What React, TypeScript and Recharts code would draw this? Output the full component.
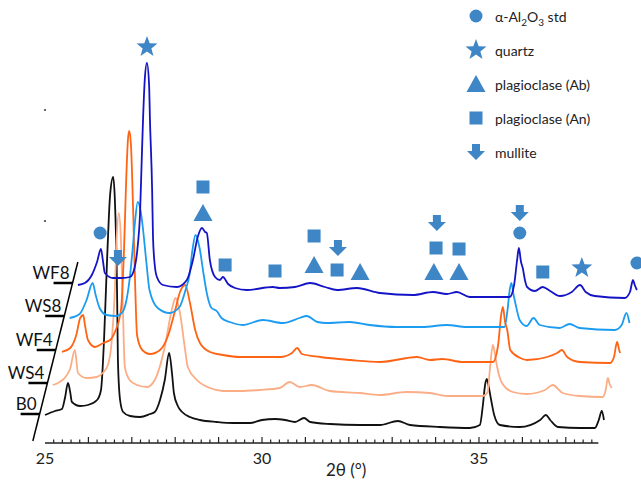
import React from "react";
import { ComposedChart, Line, Scatter, XAxis, YAxis, ReferenceLine } from "recharts";

// [2θ (°), intensity (a.u.)], one list per sample
const b0 = [
  [25.0, 28], [25.23, 32], [25.39, 34], [25.46, 45], [25.53, 60], [25.58, 51], [25.62, 41], [25.81, 37],
  [25.99, 38], [26.2, 43], [26.29, 53], [26.36, 103], [26.43, 183], [26.5, 248], [26.57, 266], [26.61, 243],
  [26.66, 153], [26.68, 83], [26.73, 43], [26.8, 31], [26.96, 27], [27.19, 26], [27.42, 29], [27.53, 31],
  [27.65, 43], [27.76, 63], [27.86, 90], [27.93, 68], [27.97, 50], [28.06, 37], [28.16, 31], [28.34, 26],
  [28.57, 23], [28.96, 21], [29.33, 20], [29.72, 20], [30.0, 23], [30.3, 24], [30.53, 23], [30.76, 21],
  [30.97, 25], [31.11, 21], [31.57, 19], [32.26, 18], [32.72, 18], [33.13, 22], [33.41, 18], [34.1, 16],
  [34.79, 15], [35.02, 18], [35.09, 38], [35.14, 58], [35.18, 64], [35.23, 55], [35.28, 43], [35.35, 28],
  [35.48, 18], [35.94, 16], [36.41, 23], [36.54, 28], [36.64, 23], [36.82, 16], [37.33, 15], [37.67, 15],
  [37.76, 23], [37.83, 32], [37.88, 23],
];
const ws4 = [
  [25.0, 27], [25.12, 29], [25.39, 42], [25.51, 62], [25.58, 39], [25.78, 34], [26.01, 35], [26.15, 39],
  [26.27, 47], [26.36, 72], [26.43, 122], [26.47, 172], [26.52, 199], [26.57, 172], [26.61, 112], [26.66, 45],
  [26.77, 32], [26.94, 27], [27.17, 25], [27.35, 32], [27.58, 65], [27.74, 102], [27.83, 114], [27.93, 99],
  [28.04, 65], [28.11, 45], [28.32, 32], [28.62, 24], [28.92, 21], [29.31, 21], [29.77, 22], [30.23, 24],
  [30.46, 30], [30.69, 25], [30.97, 27], [31.38, 21], [32.07, 19], [32.53, 17], [33.15, 20], [33.69, 19],
  [34.08, 16], [34.91, 16], [35.02, 20], [35.07, 42], [35.14, 67], [35.18, 60], [35.23, 47], [35.35, 29],
  [35.6, 20], [35.92, 18], [36.34, 22], [36.52, 27], [36.75, 19], [37.14, 16], [37.67, 15], [37.74, 22],
  [37.79, 34], [37.83, 28], [37.88, 24],
];
const wf4 = [
  [25.02, 27], [25.21, 31], [25.35, 44], [25.44, 61], [25.51, 64], [25.55, 54], [25.62, 39], [25.78, 32],
  [25.97, 36], [26.13, 39], [26.24, 47], [26.38, 69], [26.45, 129], [26.5, 199], [26.54, 239], [26.57, 248],
  [26.61, 234], [26.66, 169], [26.71, 89], [26.75, 44], [26.87, 29], [27.05, 25], [27.28, 29], [27.47, 44],
  [27.63, 69], [27.74, 87], [27.86, 94], [27.97, 76], [28.09, 49], [28.2, 36], [28.43, 27], [28.73, 24],
  [29.12, 22], [29.59, 22], [30.05, 22], [30.32, 26], [30.44, 31], [30.55, 25], [30.97, 22], [31.66, 19],
  [32.35, 17], [33.2, 22], [33.5, 19], [33.78, 20], [34.26, 17], [34.95, 17], [35.07, 34], [35.14, 64],
  [35.18, 72], [35.23, 57], [35.28, 49], [35.35, 29], [35.58, 21], [35.74, 19], [36.2, 22], [36.43, 26],
  [36.54, 29], [36.66, 22], [36.96, 17], [37.65, 16], [37.74, 22], [37.81, 37], [37.86, 29], [37.88, 26],
];
const ws8 = [
  [25.0, 27], [25.23, 31], [25.39, 45], [25.53, 62], [25.6, 50], [25.69, 37], [25.85, 30], [26.08, 29],
  [26.22, 33], [26.31, 45], [26.38, 65], [26.45, 95], [26.5, 120], [26.57, 143], [26.64, 133], [26.68, 120],
  [26.77, 82], [26.84, 55], [27.03, 37], [27.3, 32], [27.53, 38], [27.67, 55], [27.76, 70], [27.83, 95],
  [27.9, 110], [27.99, 98], [28.09, 70], [28.16, 52], [28.27, 37], [28.39, 34], [28.5, 27], [28.69, 23],
  [28.99, 20], [29.45, 25], [29.91, 22], [30.3, 27], [30.46, 29], [30.71, 23], [30.92, 22], [31.45, 23],
  [31.91, 20], [32.53, 18], [33.13, 18], [33.69, 20], [34.15, 18], [35.02, 18], [35.09, 35], [35.14, 55],
  [35.18, 62], [35.23, 50], [35.28, 40], [35.37, 25], [35.53, 19], [35.69, 27], [35.83, 20], [36.29, 17],
  [36.52, 21], [36.75, 17], [37.56, 15], [37.72, 20], [37.83, 32], [37.9, 22],
];
const wf8 = [
  [25.0, 27], [25.16, 29], [25.32, 37], [25.44, 50], [25.53, 63], [25.58, 50], [25.62, 39], [25.81, 34],
  [26.01, 34], [26.2, 35], [26.31, 45], [26.38, 67], [26.43, 97], [26.47, 152], [26.5, 192], [26.54, 232],
  [26.59, 249], [26.64, 227], [26.66, 192], [26.71, 122], [26.73, 75], [26.77, 47], [26.82, 35], [26.96, 27],
  [27.28, 25], [27.51, 32], [27.65, 52], [27.76, 75], [27.86, 84], [27.93, 80], [27.97, 79], [28.04, 52],
  [28.16, 35], [28.27, 32], [28.34, 35], [28.46, 28], [28.62, 24], [28.89, 22], [29.49, 25], [29.65, 24],
  [30.0, 25], [30.35, 29], [30.69, 25], [30.97, 22], [31.43, 24], [31.96, 19], [32.72, 17], [33.18, 20],
  [33.5, 18], [33.73, 20], [34.03, 15], [34.95, 15], [35.05, 27], [35.12, 52], [35.16, 64], [35.21, 50],
  [35.25, 44], [35.3, 32], [35.35, 25], [35.53, 21], [35.71, 25], [35.88, 21], [36.11, 16], [36.38, 20],
  [36.57, 27], [36.7, 20], [36.91, 16], [37.6, 14], [37.72, 20], [37.79, 32], [37.83, 27], [37.88, 22],
];

const samples = ["B0", "WS4", "WF4", "WS8", "WF8"];
const sampleColors = ["#111111", "#fbad86", "#ff6314", "#1c9cf0", "#1414c6"];
const sampleData = [b0, ws4, wf4, ws8, wf8];
const stackOffsets = [0, 31, 64, 98, 131];

// phase markers, placed in plot coordinates (2θ, height)
const alumina = [{ x: 26.27, y: 210 }, { x: 35.94, y: 210 }, { x: 38.64, y: 180 }];
const quartz = [{ x: 27.35, y: 396 }, { x: 37.37, y: 175 }];
const albite = [
  { x: 28.64, y: 230 }, { x: 31.2, y: 178 }, { x: 32.26, y: 171 }, { x: 33.96, y: 171 }, { x: 34.54, y: 171 },
];
const anorthite = [
  { x: 28.64, y: 256 }, { x: 29.15, y: 178 }, { x: 30.3, y: 172 }, { x: 31.2, y: 207 },
  { x: 31.73, y: 173 }, { x: 34.01, y: 195 }, { x: 34.54, y: 194 }, { x: 36.47, y: 171 },
];
const mullite = [{ x: 26.68, y: 185 }, { x: 31.75, y: 195 }, { x: 34.03, y: 220 }, { x: 35.94, y: 230 }];
const strayDots = [{ x: 25.0, y: 333 }, { x: 25.0, y: 222 }];

const xLabels = [25, 30, 35];
const xTicks = [25, ...Array.from({ length: 63 }, (_, i) => Math.round((25.2 + i * 0.2) * 10) / 10)];

const X_MIN = 23.963;
const X_MAX = 38.733;
const SLANT = 0.00579; // 2θ shift per unit of stacking offset (waterfall)
const axisFoot = { x: 24.72, y: 2 };
const axisTopY = 181;
const tickBase = 29;

const BLUE = "#3e86c6";
const FONT = "Lato, 'Open Sans', sans-serif";

const traces = samples.map((name, i) => ({
  name,
  color: sampleColors[i],
  points: sampleData[i].map(([t, c]) => ({
    x: t + stackOffsets[i] * SLANT,
    y: c + stackOffsets[i],
  })),
}));

const sampleTicks = samples.map((name, i) => ({
  name,
  x: axisFoot.x + (tickBase + stackOffsets[i] - axisFoot.y) * SLANT,
  y: tickBase + stackOffsets[i],
}));

type Kind = "circle" | "star" | "triangle" | "square" | "arrow";

function Marker({ kind, cx, cy }: { kind: Kind; cx: number; cy: number }) {
  if (kind === "circle") return <circle cx={cx} cy={cy} r={6.5} fill={BLUE} />;
  if (kind === "square") return <rect x={cx - 6.5} y={cy - 6.5} width={13} height={13} fill={BLUE} />;
  if (kind === "triangle") {
    return <polygon points={`${cx},${cy - 9} ${cx + 9.5},${cy + 8} ${cx - 9.5},${cy + 8}`} fill={BLUE} />;
  }
  if (kind === "arrow") {
    const pts = [
      [cx - 4, cy - 8], [cx + 4, cy - 8], [cx + 4, cy - 1], [cx + 9, cy - 1],
      [cx, cy + 8], [cx - 9, cy - 1], [cx - 4, cy - 1],
    ];
    return <polygon points={pts.map((p) => p.join(",")).join(" ")} fill={BLUE} />;
  }
  const star = Array.from({ length: 10 }, (_, k) => {
    const a = -Math.PI / 2 + (k * Math.PI) / 5;
    const rad = k % 2 === 0 ? 11 : 4.6;
    return `${cx + rad * Math.cos(a)},${cy + rad * Math.sin(a)}`;
  }).join(" ");
  return <polygon points={star} fill={BLUE} />;
}

const markerShape = (kind: Kind) => (p: any) => <Marker kind={kind} cx={p.cx} cy={p.cy} />;

const AxisTick = (props: any) => {
  const { x, y, payload } = props;
  const v = payload.value as number;
  const major = Math.abs(v - Math.round(v)) < 1e-6;
  return (
    <g>
      {v > 25.05 && (
        <line x1={x} x2={x} y1={y} y2={y - (major ? 6 : 3.5)} stroke="#222" strokeWidth={1.2} />
      )}
      {major && xLabels.includes(Math.round(v)) && (
        <text x={x} y={y + 21} textAnchor="middle" fontSize={16} fill="#222" fontFamily={FONT}>
          {Math.round(v)}
        </text>
      )}
    </g>
  );
};

const AxisTitle = (props: any) => {
  const vb = props.viewBox;
  return (
    <text x={vb.x + vb.width * 0.54} y={vb.y + vb.height - 5} textAnchor="middle" fontSize={17} fill="#222" fontFamily={FONT}>
      2θ (°)
    </text>
  );
};

const SampleTick = (p: any) => (
  <g>
    <line x1={p.cx - 19} x2={p.cx} y1={p.cy} y2={p.cy} stroke="#000" strokeWidth={2.5} />
    <text x={p.cx - 3} y={p.cy - 4} textAnchor="end" fontSize={17} fill="#111" fontFamily={FONT}>
      {p.payload.name}
    </text>
  </g>
);

const legendRows: { kind: Kind; label: React.ReactNode }[] = [
  { kind: "circle", label: <>α-Al<sub style={{ fontSize: 10, lineHeight: 0 }}>2</sub>O<sub style={{ fontSize: 10, lineHeight: 0 }}>3</sub> std</> },
  { kind: "star", label: "quartz" },
  { kind: "triangle", label: "plagioclase (Ab)" },
  { kind: "square", label: "plagioclase (An)" },
  { kind: "arrow", label: "mullite" },
];

const PhaseLegend = () => (
  <div style={{ position: "absolute", left: 464, top: 4, display: "flex", flexDirection: "column", gap: 10 }}>
    {legendRows.map((row) => (
      <div key={row.kind} style={{ display: "flex", alignItems: "center", height: 24 }}>
        <svg width={24} height={24}>
          <Marker kind={row.kind} cx={12} cy={12} />
        </svg>
        <span style={{ marginLeft: 7, fontSize: 14, color: "#222", fontFamily: FONT }}>{row.label}</span>
      </div>
    ))}
  </div>
);

export default function App() {
  return (
    <div style={{ position: "absolute", left: 0, top: 0, width: 641, height: 481, background: "#fff", fontFamily: FONT }}>
      <ComposedChart width={641} height={481} margin={{ top: 0, right: 0, bottom: 0, left: 0 }}>
        <XAxis
          type="number"
          dataKey="x"
          domain={[X_MIN, X_MAX]}
          allowDataOverflow
          ticks={xTicks}
          interval={0}
          tick={(p: any) => <AxisTick {...p} />}
          tickLine={false}
          axisLine={false}
          tickSize={0}
          tickMargin={0}
          height={38}
          label={(p: any) => <AxisTitle {...p} />}
        />
        <YAxis type="number" dataKey="y" domain={[0, 443]} allowDataOverflow hide width={0} />

        <ReferenceLine segment={[{ x: 25, y: 0 }, { x: 37.75, y: 0 }]} stroke="#222" strokeWidth={1.6} ifOverflow="visible" />
        <ReferenceLine
          segment={[axisFoot, { x: axisFoot.x + (axisTopY - axisFoot.y) * SLANT, y: axisTopY }]}
          stroke="#000"
          strokeWidth={1.5}
          ifOverflow="visible"
        />

        {traces.map((tr) => (
          <Line
            key={tr.name}
            data={tr.points}
            dataKey="y"
            type="monotone"
            stroke={tr.color}
            strokeWidth={1.8}
            dot={false}
            isAnimationActive={false}
          />
        ))}

        <Scatter data={sampleTicks} shape={SampleTick} isAnimationActive={false} />
        <Scatter data={strayDots} shape={(p: any) => <circle cx={p.cx} cy={p.cy} r={1.1} fill="#444" />} isAnimationActive={false} />
        <Scatter data={alumina} shape={markerShape("circle")} isAnimationActive={false} />
        <Scatter data={quartz} shape={markerShape("star")} isAnimationActive={false} />
        <Scatter data={albite} shape={markerShape("triangle")} isAnimationActive={false} />
        <Scatter data={anorthite} shape={markerShape("square")} isAnimationActive={false} />
        <Scatter data={mullite} shape={markerShape("arrow")} isAnimationActive={false} />
      </ComposedChart>
      <PhaseLegend />
    </div>
  );
}
